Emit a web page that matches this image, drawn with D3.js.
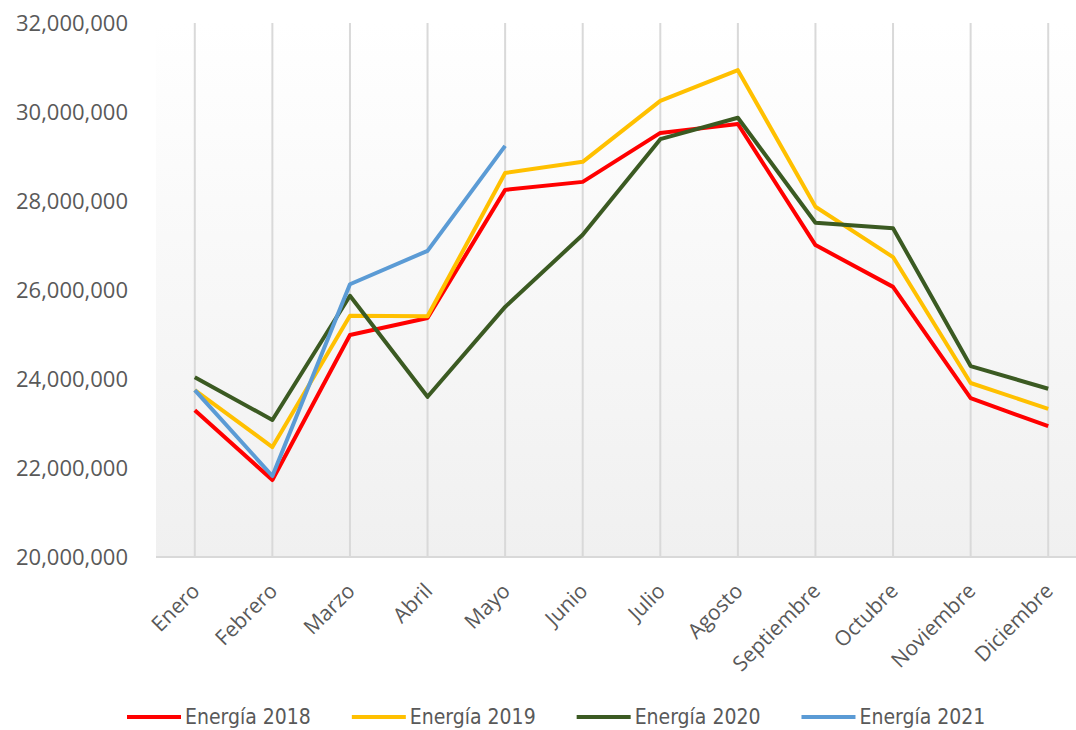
<!DOCTYPE html>
<html>
<head>
<meta charset="utf-8">
<script src="https://cdn.jsdelivr.net/npm/d3@7"></script>
<style>
  body { margin: 0; background: #fff; }
  #chart { width: 1076px; height: 730px; }
  .axis-label { font-family: "Open Sans", sans-serif; fill: #595959; }
  .legend-text { font-family: "Liberation Sans Narrow", "DejaVu Sans Condensed", sans-serif; fill: #595959; }
</style>
</head>
<body>
<div id="chart"></div>
<script>
//Datos
const meses = ['Enero','Febrero','Marzo','Abril','Mayo','Junio','Julio','Agosto','Septiembre','Octubre','Noviembre','Diciembre'];
const energia2018 = [23300000, 21730000, 24990000, 25370000, 28250000, 28430000, 29530000, 29730000, 27010000, 26070000, 23570000, 22940000];
const energia2019 = [23750000, 22470000, 25420000, 25410000, 28630000, 28880000, 30250000, 30940000, 27870000, 26740000, 23910000, 23330000];
const energia2020 = [24040000, 23080000, 25870000, 23600000, 25620000, 27240000, 29390000, 29870000, 27510000, 27390000, 24290000, 23780000];
const energia2021 = [23750000, 21820000, 26130000, 26880000, 29240000];
const yTicks = [20000000, 22000000, 24000000, 26000000, 28000000, 30000000, 32000000];

const series = [
    { name: 'Energía 2018', values: energia2018, color: '#FF0000' },
    { name: 'Energía 2019', values: energia2019, color: '#FFC000' },
    { name: 'Energía 2020', values: energia2020, color: '#3B5A22' },
    { name: 'Energía 2021', values: energia2021, color: '#5B9BD5' }
];

let margin = {top: 23, right: 0, bottom: 173, left: 156},
    width = 1076 - margin.left - margin.right,
    height = 730 - margin.top - margin.bottom;

let svg = d3.select('#chart')
    .append('svg')
      .attr('width', 1076)
      .attr('height', 730);

//Fondo degradado
let defs = svg.append('defs');
let grad = defs.append('linearGradient')
    .attr('id', 'bg')
    .attr('x1', 0).attr('y1', 0).attr('x2', 0).attr('y2', 1);
grad.append('stop').attr('offset', '0%').attr('stop-color', '#ffffff');
grad.append('stop').attr('offset', '100%').attr('stop-color', '#f0f0f0');

let g = svg.append('g')
    .attr('transform', 'translate(' + margin.left + ',' + margin.top + ')');

g.append('rect')
    .attr('x', 0).attr('y', 0)
    .attr('width', width + 20).attr('height', height)
    .attr('fill', 'url(#bg)');

//Ejes
let x = d3.scaleBand()
    .domain(meses)
    .range([0, 931]);

let y = d3.scaleLinear()
    .domain([20000000, 32000000])
    .range([height, 0]);

//Rejilla vertical
let xAxis = function(sel) {
    sel.call(d3.axisBottom(x).tickSize(0).tickFormat(''));
    sel.select('.domain').remove();
    sel.selectAll('.tick line')
        .attr('y1', 0)
        .attr('y2', -height)
        .attr('stroke', '#d9d9d9')
        .attr('stroke-width', 2);
};

g.append('g')
    .attr('transform', 'translate(0,' + height + ')')
    .call(xAxis);

g.append('line')
    .attr('x1', 0).attr('x2', width + 20)
    .attr('y1', height).attr('y2', height)
    .attr('stroke', '#d9d9d9')
    .attr('stroke-width', 2);

//Etiquetas eje X
g.append('g')
    .selectAll('text')
    .data(meses)
    .enter()
    .append('text')
    .attr('class', 'axis-label')
    .attr('font-size', 21)
    .attr('text-anchor', 'end')
    .attr('transform', function(d) {
        return 'translate(' + (x(d) + x.bandwidth() / 2 + 1) + ',' + (height + 30) + ') rotate(-45)';
    })
    .attr('dy', '0.35em')
    .text(function(d) { return d; });

//Etiquetas eje Y
let yAxis = function(sel) {
    sel.call(d3.axisLeft(y).tickValues(yTicks).tickSize(0).tickPadding(28).tickFormat(d3.format(',')));
    sel.select('.domain').remove();
    sel.selectAll('text')
        .attr('class', 'axis-label')
        .attr('font-size', 22);
};

g.append('g')
    .call(yAxis);

//Lineas
let line = d3.line()
    .x(function(d, i) { return x(meses[i]) + x.bandwidth() / 2; })
    .y(function(d) { return y(d); });

g.append('g')
    .selectAll('path')
    .data(series)
    .enter()
    .append('path')
    .attr('fill', 'none')
    .attr('stroke', function(d) { return d.color; })
    .attr('stroke-width', 4)
    .attr('stroke-linejoin', 'round')
    .attr('d', function(d) { return line(d.values); });

//Leyenda
let legend = svg.append('g')
    .attr('transform', 'translate(127,717)');

let offset = 0;
series.forEach(function(s) {
    let item = legend.append('g').attr('transform', 'translate(' + offset + ',0)');
    item.append('line')
        .attr('x1', 0).attr('x2', 54)
        .attr('y1', 0).attr('y2', 0)
        .attr('stroke', s.color)
        .attr('stroke-width', 4);
    let t = item.append('text')
        .attr('class', 'legend-text')
        .attr('font-size', 21)
        .attr('x', 58)
        .attr('dy', '0.35em')
        .text(s.name);
    offset += 58 + t.node().getComputedTextLength() + 41;
});
</script>
</body>
</html>
